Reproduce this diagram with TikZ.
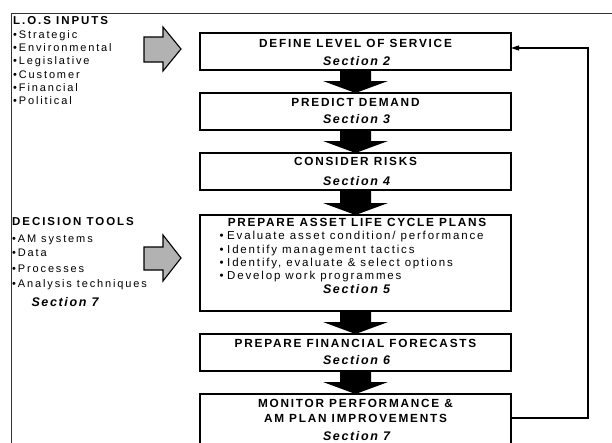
\documentclass[tikz,border=0pt]{standalone}
\usepackage{fontspec}
\setmainfont{Liberation Sans}
\newfontfamily\bodyfont[LetterSpace=17]{Liberation Sans}
\newfontfamily\listfont[LetterSpace=16]{Liberation Sans}
\newfontfamily\headfont[LetterSpace=17]{Liberation Sans}
\newfontfamily\titlefont[LetterSpace=15]{Liberation Sans}
\newfontfamily\secfont[LetterSpace=13]{Liberation Sans}
\usetikzlibrary{arrows.meta,calc}

% downward block arrow from the bottom of one stage to the top of the next
\newcommand\stagearrow[2]{%
  \fill[black] ($(#1.south)+(-15.5,0)$) -- ($(#1.south)+(15.5,0)$)
    -- ($(#2.north)+(15.5,-12)$) -- ($(#2.north)+(32.5,-12)$)
    -- (#2.north)
    -- ($(#2.north)+(-32.5,-12)$) -- ($(#2.north)+(-15.5,-12)$) -- cycle;}

\begin{document}
\begin{tikzpicture}[x=1pt,y=-1pt,
  stage/.style={draw=black,line width=1.2pt,minimum width=311pt,inner sep=0pt,
    outer sep=0pt,anchor=north west},
  title/.style={font=\titlefont\bfseries\fontsize{11.8}{13}\selectfont,
    inner sep=0pt,anchor=base,yshift=-4.2pt},
  section/.style={font=\secfont\bfseries\itshape\fontsize{12.5}{14}\selectfont,
    inner sep=0pt,anchor=base,yshift=-4.5pt},
  item/.style={font=\bodyfont\fontsize{11}{13}\selectfont,
    inner sep=0pt,anchor=base west,yshift=-3.9pt},
  stageitem/.style={font=\listfont\fontsize{11.5}{13}\selectfont,
    inner sep=0pt,anchor=base west,yshift=-4.1pt},
  heading/.style={font=\headfont\bfseries\fontsize{11.5}{13}\selectfont,
    inner sep=0pt,anchor=base west,yshift=-4.1pt},
  inputarrow/.style={draw=black,line width=1.1pt,fill=black!30,line join=miter},
  feedback/.style={draw=black,line width=1.1pt,-{Triangle[length=8pt,width=5pt]}}]

\useasboundingbox (0,0) rectangle (612,442);
\clip (0,0) rectangle (612,442);
\fill[white] (0,0) rectangle (612,442);

% outer frame
\draw[line width=1pt,black!80] (11,13) rectangle (640,470);

% stages
\node[stage,minimum height=37pt] (b1) at (200,33) {};
\node[stage,minimum height=37pt] (b2) at (200,93) {};
\node[stage,minimum height=37pt] (b3) at (200,153) {};
\node[stage,minimum height=96pt] (b4) at (200,215) {};
\node[stage,minimum height=37pt] (b5) at (200,334) {};
\node[stage,minimum height=70pt] (b6) at (200,394) {};

\node[title] (t1) at (355.5,43.3) {DEFINE LEVEL OF SERVICE};
\node[section] (s1) at (356.5,61) {Section 2};
\node[title] (t2) at (355.5,102.7) {PREDICT DEMAND};
\node[section] (s2) at (356.5,119) {Section 3};
\node[title] (t3) at (355.5,161.7) {CONSIDER RISKS};
\node[section] (s3) at (356.5,181) {Section 4};
\node[title] (t4) at (357,222.7) {PREPARE ASSET LIFE CYCLE PLANS};
\node[stageitem] (i1) at (219.5,235.7) {\textbullet\hspace{3.5pt}Evaluate asset condition/ performance};
\node[stageitem] (i2) at (219.5,249.3) {\textbullet\hspace{3.5pt}Identify management tactics};
\node[stageitem] (i3) at (219.5,262.3) {\textbullet\hspace{3.5pt}Identify, evaluate \& select options};
\node[stageitem] (i4) at (219.5,275.7) {\textbullet\hspace{3.5pt}Develop work programmes};
\node[section] (s4) at (356.5,289.3) {Section 5};
\node[title] (t5) at (355.5,343) {PREPARE FINANCIAL FORECASTS};
\node[section] (s5) at (356.5,360) {Section 6};
\node[title] (t6a) at (355.5,403) {MONITOR PERFORMANCE \&};
\node[title] (t6b) at (355.5,418) {AM PLAN IMPROVEMENTS};
\node[section] (s6) at (356.5,436) {Section 7};

% flow between stages
\stagearrow{b1}{b2}
\stagearrow{b2}{b3}
\stagearrow{b3}{b4}
\stagearrow{b4}{b5}
\stagearrow{b5}{b6}

% feedback loop
\draw[feedback] ($(b6.north east)+(0,24)$) -- ++(77,0) |- ($(b1.north east)+(0,15)$);

% level of service inputs
\node[heading] (los) at (13,20) {L.O.S INPUTS};
\node[item] (los1) at (13,34.3) {\textbullet Strategic};
\node[item] (los2) at (13,47.7) {\textbullet Environmental};
\node[item] (los3) at (13,61) {\textbullet Legislative};
\node[item] (los4) at (13,74.3) {\textbullet Customer};
\node[item] (los5) at (13,87.7) {\textbullet Financial};
\node[item] (los6) at (13,101) {\textbullet Political};
\draw[inputarrow] (144,37) -- (163,37) -- (163,27) -- (181,49) -- (163,71)
  -- (163,62) -- (144,62) -- cycle;

% decision tools
\node[heading] (dt) at (12,221) {DECISION TOOLS};
\node[item] (dt1) at (12,238.3) {\textbullet AM systems};
\node[item] (dt2) at (12,252.7) {\textbullet Data};
\node[item] (dt3) at (12,268.3) {\textbullet Processes};
\node[item] (dt4) at (12,283.5) {\textbullet Analysis techniques};
\node[section] (dts) at (65,301.7) {Section 7};
\draw[inputarrow] (144,247) -- (163,247) -- (163,235) -- (181,258) -- (163,281)
  -- (163,270) -- (144,270) -- cycle;

\end{tikzpicture}
\end{document}
